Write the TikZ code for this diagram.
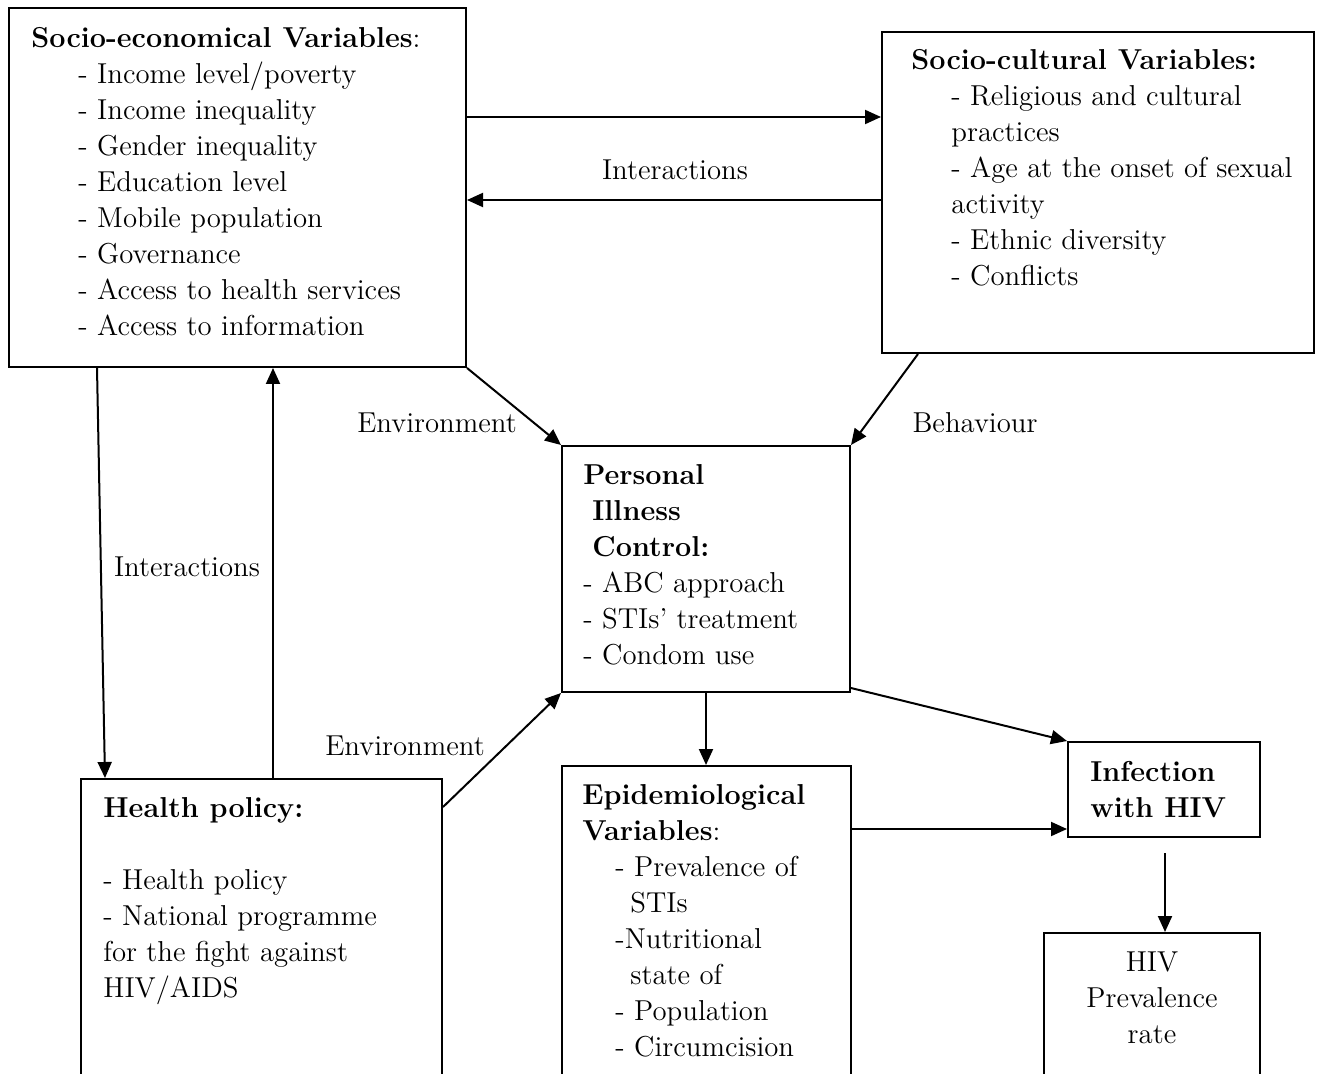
\documentclass[tikz,border=0pt]{standalone}
\usetikzlibrary{arrows.meta,fit}
\newcommand\fsz{\fontsize{14.4}{18}\selectfont}
\begin{document}
\begin{tikzpicture}[x=0.5pt,y=-0.5pt,
  box/.style={draw,line width=1pt,inner sep=0pt,rectangle},
  blk/.style={inner sep=0pt,anchor=north west,align=left,font=\fsz},
  lbl/.style={inner sep=0pt,anchor=base,font=\fsz},
  arr/.style={line width=1pt,-{Triangle[length=8pt,width=7pt]}}]
\useasboundingbox (0,0) rectangle (1320,1074);
\fill[white] (0,0) rectangle (1320,1074);
\clip (0,0) rectangle (1320,1074);
% boxes
\node[box, fit={(9,8) (466,367)}] (se) {};
\node[box, fit={(882,32) (1314,353)}] (sc) {};
\node[box, fit={(562,446) (850,692)}] (pic) {};
\node[box, fit={(81,779) (442,1110)}] (hp) {};
\node[box, fit={(562,766) (851,1110)}] (epi) {};
\node[box, fit={(1068,742) (1260,837)}] (inf) {};
\node[box, fit={(1044,933) (1260,1110)}] (prev) {};
% texts
\node[blk] (setitle) at (31,22) {\strut\textbf{Socio-economical Variables}:};
\node[blk] (seitems) at (78,58) {\strut- Income level/poverty\\- Income inequality\\- Gender inequality\\- Education level\\- Mobile population\\- Governance\\- Access to health services\\- Access to information};
\node[blk] (sctitle) at (911,44) {\strut\textbf{Socio-cultural Variables:}};
\node[blk] (scitems) at (951,80) {\strut- Religious and cultural\\practices\\- Age at the onset of sexual\\activity\\- Ethnic diversity\\- Conflicts};
\node[blk] (pictext) at (583,459) {\strut\textbf{Personal}\\\hspace*{4.5pt}\textbf{Illness}\\\hspace*{4.5pt}\textbf{Control:}\\- ABC approach\\- STIs’ treatment\\- Condom use};
\node[blk] (hptext) at (103,792) {\strut\textbf{Health policy:}\\\mbox{}\\- Health policy\\- National programme\\for the fight against\\HIV/AIDS};
\node[blk] (epititle) at (582,779) {\strut\textbf{Epidemiological}\\\textbf{Variables}:};
\node[blk] (epiitems) at (615,851) {\strut- Prevalence of\\\hspace*{7.5pt}STIs\\-Nutritional\\\hspace*{7.5pt}state of\\- Population\\- Circumcision};
\node[blk] (inftext) at (1090,756) {\strut\textbf{Infection}\\\textbf{with HIV}};
\node[blk,anchor=north,align=center] (prevtext) at (1152,946) {\strut HIV\\Prevalence\\rate};
% labels
\node[lbl] (int1) at (675,180) {Interactions};
\node[lbl] (env1) at (437,432) {Environment};
\node[lbl] (beh) at (975,432) {Behaviour};
\node[lbl] (int2) at (187,576) {Interactions};
\node[lbl] (env2) at (405,755) {Environment};
% helper coordinates
\coordinate (y117) at (0,117);
\coordinate (y200) at (0,200);
\coordinate (x918) at (918,0);
\coordinate (x97) at (97,0);
\coordinate (x105) at (105,0);
\coordinate (x273) at (273,0);
\coordinate (y807) at (0,807);
\coordinate (x706) at (706,0);
\coordinate (y688) at (0,688);
\coordinate (y829) at (0,829);
\coordinate (x1165) at (1165,0);
\coordinate (infout) at (1165,853);
% connectors
\draw[arr] (se.east |- y117) -- (sc.west |- y117);
\draw[arr] (sc.west |- y200) -- (se.east |- y200);
\draw[arr] (se.south east) -- (pic.north west);
\draw[arr] (sc.south -| x918) -- (pic.north east);
\draw[arr] (se.south -| x97) -- (hp.north -| x105);
\draw[arr] (hp.north -| x273) -- (se.south -| x273);
\draw[arr] (hp.east |- y807) -- (pic.south west);
\draw[arr] (pic.south -| x706) -- (epi.north -| x706);
\draw[arr] (pic.east |- y688) -- (inf.north west);
\draw[arr] (epi.east |- y829) -- (inf.west |- y829);
\draw[arr] (infout) -- (prev.north -| x1165);
\end{tikzpicture}
\end{document}
